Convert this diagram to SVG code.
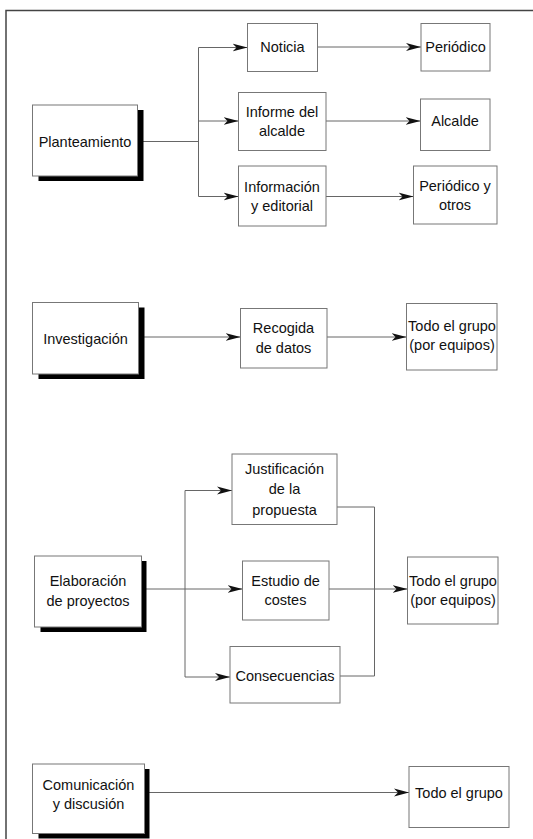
<svg xmlns="http://www.w3.org/2000/svg" width="533" height="839" viewBox="0 0 533 839">
<defs>
<style>
.box{fill:#fff;stroke:#777;stroke-width:1}
.shadow{fill:#000}
.t{font-family:"Liberation Sans",Arial,sans-serif;font-size:14.5px;fill:#111;text-anchor:middle}
.c{fill:none;stroke:#666;stroke-width:1}
.frame{fill:none;stroke:#444;stroke-width:1.5}
</style>
<marker id="ah" markerUnits="userSpaceOnUse" markerWidth="16" markerHeight="9" refX="15" refY="4.5" orient="auto">
<path d="M0,0.5 L15,4.5 L0,8.5 L4,4.5 z" fill="#111"/>
</marker>
</defs>
<rect width="533" height="839" fill="#fff"/>
<path class="frame" d="M6,839 V10.5 H533"/>

<g id="connectors">
<path class="c" d="M137,141.5 H198.5"/>
<path class="c" d="M198.5,47.5 V196.5"/>
<path class="c" d="M198.5,47.5 H247.5" marker-end="url(#ah)"/>
<path class="c" d="M198.5,121 H238.5" marker-end="url(#ah)"/>
<path class="c" d="M198.5,196.5 H238.5" marker-end="url(#ah)"/>
<path class="c" d="M317.5,47 H421" marker-end="url(#ah)"/>
<path class="c" d="M326,121 H420.5" marker-end="url(#ah)"/>
<path class="c" d="M326,196.5 H413.5" marker-end="url(#ah)"/>
<path class="c" d="M138.5,337 H240.5" marker-end="url(#ah)"/>
<path class="c" d="M327,337 H406.5" marker-end="url(#ah)"/>
<path class="c" d="M141.5,589 H242.5" marker-end="url(#ah)"/>
<path class="c" d="M185,490.5 V677"/>
<path class="c" d="M185,490.5 H232" marker-end="url(#ah)"/>
<path class="c" d="M185,677 H230" marker-end="url(#ah)"/>
<path class="c" d="M337,507 H374.5 V676 H340"/>
<path class="c" d="M329,589 H407.5" marker-end="url(#ah)"/>
<path class="c" d="M144.5,792.5 H409" marker-end="url(#ah)"/>
</g>

<g id="planteamiento">
<rect class="shadow" x="38.5" y="110" width="105" height="71"/>
<rect class="box" x="32.5" y="105" width="105" height="71"/>
<text class="t" x="85" y="146.5">Planteamiento</text>
</g>
<g id="noticia">
<rect class="box" x="247.5" y="23.5" width="70" height="48"/>
<text class="t" x="282.5" y="52">Noticia</text>
</g>
<g id="informe">
<rect class="box" x="238.5" y="92.5" width="87.5" height="58"/>
<text class="t" x="282" y="117">Informe del</text>
<text class="t" x="282" y="135.5">alcalde</text>
</g>
<g id="informacion">
<rect class="box" x="238.5" y="166" width="87.5" height="60"/>
<text class="t" x="282" y="191.5">Información</text>
<text class="t" x="282" y="211">y editorial</text>
</g>
<g id="periodico">
<rect class="box" x="421" y="23.5" width="69" height="47.5"/>
<text class="t" x="455.5" y="52">Periódico</text>
</g>
<g id="alcalde">
<rect class="box" x="420.5" y="99" width="69.5" height="51.5"/>
<text class="t" x="455" y="126">Alcalde</text>
</g>
<g id="periodico-otros">
<rect class="box" x="413.5" y="166" width="83.5" height="58"/>
<text class="t" x="455" y="190.5">Periódico y</text>
<text class="t" x="455" y="210">otros</text>
</g>

<g id="investigacion">
<rect class="shadow" x="38.5" y="307.5" width="106" height="71.5"/>
<rect class="box" x="32.5" y="302.5" width="106" height="71.5"/>
<text class="t" x="85.5" y="344">Investigación</text>
</g>
<g id="recogida">
<rect class="box" x="240.5" y="308.5" width="86.5" height="59.5"/>
<text class="t" x="283.5" y="333">Recogida</text>
<text class="t" x="283.5" y="352.5">de datos</text>
</g>
<g id="todo-equipos-1">
<rect class="box" x="406.5" y="303.5" width="90.5" height="66.5"/>
<text class="t" x="452" y="331">Todo el grupo</text>
<text class="t" x="452" y="350">(por equipos)</text>
</g>

<g id="elaboracion">
<rect class="shadow" x="40.5" y="561" width="106" height="71"/>
<rect class="box" x="34.5" y="556" width="107" height="71"/>
<text class="t" x="88" y="585.5">Elaboración</text>
<text class="t" x="88" y="605.5">de proyectos</text>
</g>
<g id="justificacion">
<rect class="box" x="232" y="454" width="105" height="70.5"/>
<text class="t" x="284.5" y="473.5">Justificación</text>
<text class="t" x="284.5" y="494">de la</text>
<text class="t" x="284.5" y="515">propuesta</text>
</g>
<g id="estudio">
<rect class="box" x="242.5" y="561" width="86.5" height="59"/>
<text class="t" x="285.5" y="585.5">Estudio de</text>
<text class="t" x="285.5" y="605">costes</text>
</g>
<g id="consecuencias">
<rect class="box" x="230" y="646.5" width="110" height="56.5"/>
<text class="t" x="285" y="681">Consecuencias</text>
</g>
<g id="todo-equipos-2">
<rect class="box" x="407.5" y="557" width="90.5" height="67"/>
<text class="t" x="453" y="585.5">Todo el grupo</text>
<text class="t" x="453" y="605">(por equipos)</text>
</g>

<g id="comunicacion">
<rect class="shadow" x="38.5" y="769" width="111" height="69.5"/>
<rect class="box" x="32.5" y="764" width="112" height="69.5"/>
<text class="t" x="88.5" y="789.5">Comunicación</text>
<text class="t" x="88.5" y="809">y discusión</text>
</g>
<g id="todo-grupo">
<rect class="box" x="409" y="766.5" width="100" height="61"/>
<text class="t" x="459" y="797.5">Todo el grupo</text>
</g>
</svg>
